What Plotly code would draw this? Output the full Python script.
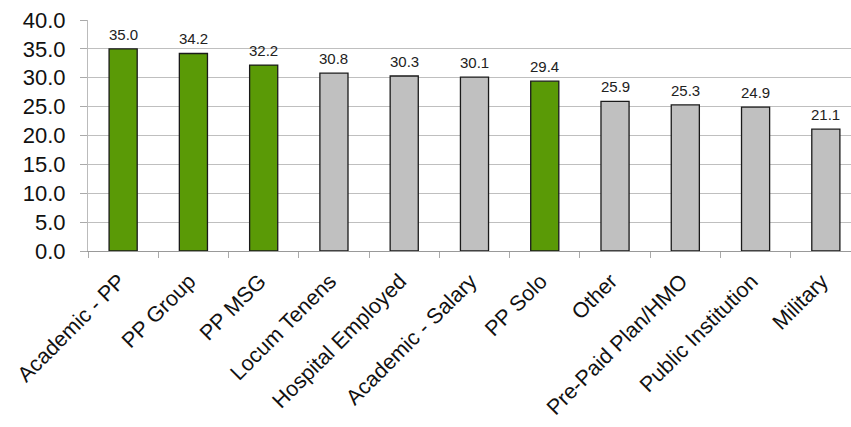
import plotly.graph_objects as go

categories = ["Academic - PP", "PP Group", "PP MSG", "Locum Tenens", "Hospital Employed",
              "Academic - Salary", "PP Solo", "Other", "Pre-Paid Plan/HMO",
              "Public Institution", "Military"]
values = [35.0, 34.2, 32.2, 30.8, 30.3, 30.1, 29.4, 25.9, 25.3, 24.9, 21.1]
highlight = [True, True, True, False, False, False, True, False, False, False, False]
y_ticks = [0, 5, 10, 15, 20, 25, 30, 35, 40]

GREEN = "#5a9a06"
GRAY = "#c0c0c0"
colors = [GREEN if h else GRAY for h in highlight]
FONT = "Liberation Sans, Arial"

fig = go.Figure(go.Bar(
    x=categories, y=values,
    marker=dict(color=colors, line=dict(color="#1a1a1a", width=1.3)),
    width=0.4,
    cliponaxis=False,
))

for c, v in zip(categories, values):
    fig.add_annotation(
        x=c, y=v, text=f"{v:.1f}", showarrow=False,
        yanchor="bottom", yshift=4,
        font=dict(family=FONT, size=15, color="#222222"),
    )

fig.update_layout(
    width=851, height=427,
    margin=dict(l=88, r=0, t=20, b=176),
    paper_bgcolor="white", plot_bgcolor="white",
    showlegend=False,
    font=dict(family=FONT, color="#111111"),
)
fig.update_xaxes(
    type="category",
    range=[-0.5, 10.358],
    tickangle=-45,
    tickfont=dict(size=21.5, color="#111111"),
    showline=True, linecolor="#999999", linewidth=1.3,
    ticks="outside", tickson="boundaries", ticklen=6, tickcolor="#aaaaaa", tickwidth=1,
    ticklabelshift=-4,
    ticklabelstandoff=8,
    showgrid=False,
)
fig.update_yaxes(
    range=[0, 40],
    tickvals=y_ticks,
    ticktext=[f"{t:.1f}" for t in y_ticks],
    tickfont=dict(size=22, color="#111111"),
    showline=True, linecolor="#bbbbbb", linewidth=1,
    ticks="outside", ticklen=7, tickcolor="#aaaaaa",
    ticklabelstandoff=10,
    showgrid=True, gridcolor="#bfbfbf", gridwidth=1.3,
    zeroline=False,
)

fig.write_html("out.html")
